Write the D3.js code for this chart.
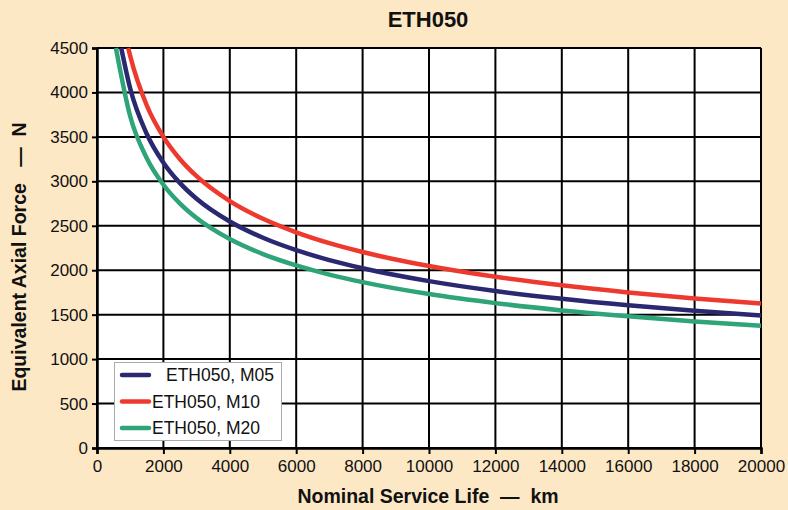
<!DOCTYPE html>
<html><head><meta charset="utf-8">
<script src="https://cdn.jsdelivr.net/npm/d3@7"></script>
<style>
html,body{margin:0;padding:0;background:#FDE8C6;}
svg{display:block;font-family:"Liberation Sans",Arial,sans-serif;}
</style></head>
<body><svg id="c" width="788" height="510"></svg>
<script>
const title = "ETH050";
const xLabel = "Nominal Service Life  \u2014  km";
const yLabel = "Equivalent Axial Force   \u2014  N";
const xTicks = [0,2000,4000,6000,8000,10000,12000,14000,16000,18000,20000];
const yTicks = [0,500,1000,1500,2000,2500,3000,3500,4000,4500];

const seriesNames = ["ETH050, M05","ETH050, M10","ETH050, M20"];
const seriesColors = ["#2B2872","#EE3A2E","#2EA478"];

const lifeM05 = [730,1000,1500,2000,2500,3000,4000,5000,6000,7000,8000,10000,12000,14000,16000,18000,20000];
const forceM05 = [4500,4044,3533,3210,2980,2804,2548,2365,2226,2114,2022,1877,1766,1678,1605,1543,1490];
const lifeM10 = [940,1000,1500,2000,2500,3000,4000,5000,6000,7000,8000,10000,12000,14000,16000,18000,20000];
const forceM10 = [4500,4410,3853,3500,3249,3058,2778,2579,2427,2305,2205,2047,1926,1830,1750,1683,1625];
const lifeM20 = [570,1000,1500,2000,2500,3000,4000,5000,6000,7000,8000,10000,12000,14000,16000,18000,20000];
const forceM20 = [4500,3732,3260,2962,2750,2588,2351,2182,2054,1951,1866,1732,1630,1548,1481,1424,1375];

const series = [
  {name:seriesNames[0], color:seriesColors[0], pts:lifeM05.map((l,i)=>[l,forceM05[i]])},
  {name:seriesNames[1], color:seriesColors[1], pts:lifeM10.map((l,i)=>[l,forceM10[i]])},
  {name:seriesNames[2], color:seriesColors[2], pts:lifeM20.map((l,i)=>[l,forceM20[i]])}
];

const svg = d3.select("#c");
const L=97, R=761, T=48, B=448;
const x = d3.scaleLinear().domain([0,20000]).range([L,R]);
const y = d3.scaleLinear().domain([0,4500]).range([B,T]);

svg.append("rect").attr("x",L).attr("y",T).attr("width",R-L).attr("height",B-T).attr("fill","#fff");

// grid
svg.append("g").selectAll("line").data(xTicks).join("line")
  .attr("x1",d=>x(d)).attr("x2",d=>x(d)).attr("y1",T).attr("y2",B)
  .attr("stroke","#000").attr("stroke-width",2);
svg.append("g").selectAll("line").data(yTicks).join("line")
  .attr("x1",L).attr("x2",R).attr("y1",d=>y(d)).attr("y2",d=>y(d))
  .attr("stroke","#000").attr("stroke-width",2);

// axes
const xa = svg.append("g").attr("transform",`translate(0,${B})`)
  .call(d3.axisBottom(x).tickValues(xTicks).tickFormat(d3.format("d")).tickSize(6).tickPadding(6));
const ya = svg.append("g").attr("transform",`translate(${L},0)`)
  .call(d3.axisLeft(y).tickValues(yTicks).tickFormat(d3.format("d")).tickSize(5).tickPadding(4));
[xa,ya].forEach(a=>{
  a.select(".domain").attr("stroke","#000").attr("stroke-width",2.5);
  a.selectAll(".tick line").attr("stroke","#000").attr("stroke-width",2);
  a.selectAll(".tick text").attr("font-size",17).attr("fill","#111")
   .attr("font-family","'Liberation Sans',Arial,sans-serif");
});

// curves
svg.append("clipPath").attr("id","pc").append("rect")
  .attr("x",L).attr("y",T-1).attr("width",R-L+2).attr("height",B-T+1);
const line = d3.line().x(d=>x(d[0])).y(d=>y(d[1])).curve(d3.curveMonotoneX);
svg.append("g").attr("clip-path","url(#pc)").selectAll("path").data(series).join("path")
  .attr("d",d=>line(d.pts)).attr("fill","none").attr("stroke",d=>d.color)
  .attr("stroke-width",4.5).attr("stroke-linejoin","round");

// title & labels
svg.append("text").attr("x",428).attr("y",27).attr("text-anchor","middle")
  .attr("font-size",22).attr("font-weight","bold").attr("fill","#111").text(title);
svg.append("text").attr("x",428).attr("y",503).attr("text-anchor","middle")
  .attr("font-size",19.5).attr("font-weight","bold").attr("fill","#111")
  .style("white-space","pre").text(xLabel);
svg.append("text").attr("transform","translate(26,257) rotate(-90)").attr("text-anchor","middle")
  .attr("font-size",19.5).attr("font-weight","bold").attr("fill","#111")
  .style("white-space","pre").text(yLabel);

// legend
const lg = svg.append("g");
lg.append("rect").attr("x",114.5).attr("y",362.5).attr("width",167).attr("height",78)
  .attr("fill","#fff").attr("stroke","#aaa").attr("stroke-width",1);
const textX = [166,152,152];
series.forEach((s,i)=>{
  const yy = 375 + i*26.5;
  lg.append("line").attr("x1",122).attr("x2",149).attr("y1",yy).attr("y2",yy)
    .attr("stroke",s.color).attr("stroke-width",4.5).attr("stroke-linecap","round");
  lg.append("text").attr("x",textX[i]).attr("y",yy+6).attr("font-size",17.5).attr("fill","#111").text(s.name);
});
</script></body></html>
